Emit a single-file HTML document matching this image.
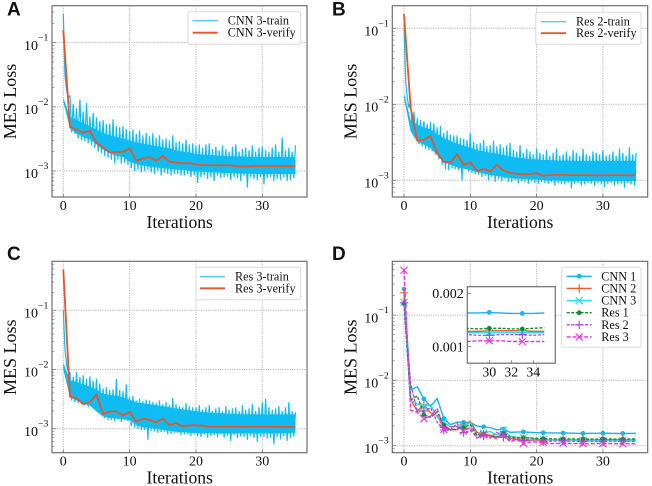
<!DOCTYPE html>
<html lang="en">
<head>
<meta charset="utf-8">
<title>MES Loss charts</title>
<style>
html,body{margin:0;padding:0;background:#fff;width:652px;height:486px;overflow:hidden}
svg{display:block;filter:blur(0.35px)}
text{font-family:"Liberation Serif",serif;fill:#111}
.panel-letter{font-family:"Liberation Sans",sans-serif;font-weight:bold;font-size:19px;fill:#111}
</style>
</head>
<body>
<svg id="chart" xmlns="http://www.w3.org/2000/svg" width="652" height="486" viewBox="0 0 652 486"></svg>
<script>
// All loss values are in units of 1e-3.
const xTicks = [0, 10, 20, 30];
const yExponents = [-1, -2, -3];
const insetXTicks = [30, 32, 34];
const insetYTicks = [0.002, 0.001];
const insetYLabels = ['0.002', '0.001'];
const markerIterations = [0, 3, 6, 9, 12, 15, 18, 21, 24, 27, 30, 33];

const verifyA = [157, 4.9, 4.4, 3.96, 4.25, 2.76, 2.3, 1.95, 1.98, 2.0, 2.25, 1.45, 1.56, 1.65, 1.45, 1.71, 1.4, 1.35, 1.32, 1.33, 1.27, 1.24, 1.23, 1.23, 1.22, 1.23, 1.2, 1.17, 1.18, 1.19, 1.19, 1.19, 1.19, 1.19, 1.19, 1.19];
const verifyB = [154, 8.9, 3.36, 3.4, 3.83, 2.3, 1.74, 1.72, 2.2, 1.59, 1.72, 1.33, 1.41, 1.31, 1.6, 1.35, 1.25, 1.22, 1.2, 1.21, 1.24, 1.15, 1.17, 1.18, 1.18, 1.17, 1.17, 1.17, 1.17, 1.16, 1.16, 1.17, 1.17, 1.17, 1.16, 1.17];
const verifyC = [487, 3.5, 3.26, 2.6, 2.82, 3.75, 1.77, 1.94, 1.96, 1.68, 1.91, 1.31, 1.48, 1.4, 1.28, 1.49, 1.15, 1.25, 1.09, 1.14, 1.14, 1.12, 1.08, 1.08, 1.09, 1.08, 1.08, 1.07, 1.07, 1.08, 1.08, 1.08, 1.07, 1.07, 1.07, 1.06];

// Dense body of each train curve: upper and lower edge at every iteration.
const coreUpperA = [14, 7, 6.2, 5.6, 5, 4.4, 3.9, 3.6, 3.4, 3.2, 3, 2.8, 2.7, 2.55, 2.45, 2.35, 2.25, 2.1, 2, 1.95, 1.85, 1.8, 1.78, 1.75, 1.72, 1.7, 1.7, 1.68, 1.66, 1.66, 1.65, 1.65, 1.65, 1.65, 1.65, 1.65];
const coreLowerA = [12, 4.6, 3.8, 3.4, 3.1, 2.6, 2.15, 1.9, 1.72, 1.65, 1.4, 1.28, 1.22, 1.17, 1.14, 1.1, 1.08, 1.05, 1.04, 1.02, 0.98, 0.97, 0.95, 0.95, 0.93, 0.93, 0.92, 0.91, 0.91, 0.9, 0.9, 0.9, 0.9, 0.9, 0.9, 0.9];
const coreUpperB = [14, 6.2, 5.4, 5, 4.7, 4.1, 3.6, 3.3, 3.05, 2.85, 2.7, 2.5, 2.4, 2.3, 2.25, 2.15, 2.05, 2, 1.95, 1.9, 1.9, 1.85, 1.85, 1.82, 1.82, 1.82, 1.8, 1.8, 1.8, 1.8, 1.8, 1.8, 1.8, 1.8, 1.8, 1.8];
const coreLowerB = [12, 4.4, 3.2, 2.95, 2.65, 2.15, 1.75, 1.6, 1.48, 1.42, 1.36, 1.28, 1.23, 1.17, 1.14, 1.1, 1.07, 1.05, 1.04, 1.03, 1.02, 1, 0.99, 0.99, 0.98, 0.98, 0.97, 0.97, 0.97, 0.97, 0.97, 0.97, 0.97, 0.97, 0.97, 0.97];
const coreUpperC = [13, 6.6, 6.2, 5.6, 5.1, 4.6, 3.9, 3.7, 3.6, 3.4, 3.1, 2.8, 2.7, 2.6, 2.5, 2.4, 2.3, 2.2, 2.12, 2.05, 1.98, 1.92, 1.88, 1.85, 1.82, 1.8, 1.78, 1.76, 1.75, 1.75, 1.75, 1.75, 1.75, 1.75, 1.75, 1.75];
const coreLowerC = [10, 3.4, 3, 2.65, 2.45, 1.95, 1.6, 1.52, 1.48, 1.46, 1.38, 1.16, 1.06, 1.03, 1, 0.95, 0.92, 0.89, 0.87, 0.85, 0.84, 0.84, 0.84, 0.83, 0.83, 0.83, 0.83, 0.83, 0.83, 0.83, 0.83, 0.83, 0.83, 0.84, 0.84, 0.86];

// Spiky train readings, spread evenly across iterations 0 to 35.
const trainA = [280,30,18,14, 15,4.0,11,3.8, 9.5,3.2,13,3.0, 8.5,2.9,11.5,2.7, 7,2.5,8,2.3, 6.8,2.0,6,1.9, 6.2,1.7,5.4,1.6, 5.5,1.5,6.4,1.3, 5,1.5,4.8,1.3, 5,1.35,4.5,1.25, 4.2,1.1,4.4,1.0, 3.8,1.05,4.3,.95, 3.6,1.0,3.9,1.05, 3.5,.95,3.9,.9, 3.3,1.0,3.6,.85, 3.1,.95,3.2,.9, 3.0,.85,3.6,.9, 2.8,.9,2.9,.85, 2.7,.85,3.1,.9, 2.6,.8,2.7,.85, 2.5,.65,2.6,.8, 2.3,.85,2.6,.75, 2.7,.8,2.2,.7, 2.4,.85,2.1,.78, 2.5,.8,2.2,.82, 2.0,.72,2.4,.8, 2.6,.78,2.0,.7, 2.2,.85,2.3,.55, 2.1,.8,2.5,.75, 2.0,.72,2.3,.8, 2.4,.62,2.1,.78, 2.0,.8,2.3,.7, 2.6,.75,2.0,.72, 3.3,.8,2.1,.7, 2.3,.72,2.0,.78, 2.5];
const trainB = [120,20,12,9, 11,4.5,8,3.8, 6.5,3,6.2,2.8, 6,2.6,5.5,2.5, 5.9,2.4,5.6,2.2, 5,1.9,5.2,1.6, 4.2,1.4,4.5,1.35, 4,1.45,3.9,1.4, 3.9,1.35,3.6,1.0, 3.5,1.4,3.4,1.3, 4.2,1.25,3.2,1.2, 3,1.2,3.1,1.1, 3.4,1.15,2.8,1.0, 2.9,1.1,3.3,.95, 2.8,1.05,3,.98, 2.7,1.05,2.9,.95, 3.1,.95,2.5,1.0, 2.4,.92,2.9,.98, 2.3,.95,2.6,.9, 2.4,.97,2.2,.92, 2.6,.9,2.3,.95, 2.2,.92,2.5,.9, 2.1,.95,2.3,.85, 2.6,.92,2.1,.9, 2.2,.88,2.4,.93, 2.1,.78,2.5,.9, 2.3,.92,2.1,.85, 2.6,.88,2.2,.93, 2.1,.9,2.4,.85, 2.3,.92,2.2,.88, 2.5,.82,2.1,.9, 2.2,.93,2.4,.85, 2.1,.88,2.6,.9, 2.3,.8,2.1,.92, 2.7,.88,2.2,.85, 2.3];
const trainC = [100,22,12,9, 9,3,7.5,2.8, 9,2.7,7.5,2.6, 8,2.5,7,2.3, 7.6,2.4,6.4,2.2, 7,2.2,5.8,1.7, 4.8,1.5,5,1.4, 4.5,1.4,4.6,1.35, 6.9,1.45,4.5,1.3, 4.3,1.4,5.6,1.35, 3.4,1.1,3.6,1.05, 3,1.0,3.2,.95, 2.9,.95,3.1,.65, 3,.92,2.8,.9, 2.7,.85,3,.88, 2.6,.9,2.8,.8, 2.5,.82,3.3,.85, 2.6,.85,2.4,.78, 2.3,.8,2.7,.82, 2.4,.75,2.3,.8, 2.3,.75,2.5,.72, 2.1,.8,2.3,.7, 2.5,.75,2.0,.78, 2.2,.72,2.3,.8, 2.0,.7,2.4,.76, 2.1,.62,2.2,.78, 2.3,.7,2.0,.74, 2.5,.72,2.1,.65, 2.2,.76,2.6,.7, 2.0,.6,2.3,.74, 2.8,.72,3.2,.68, 2.3,.7,2.1,.54, 2.2,.72,2.4,.66, 2.0,.75,2.3,.62, 2.8,.7,2.0,.74, 1.9];

const cnn1 = [250, 7.2, 8.0, 5.2, 4.0, 5.3, 2.6, 2.1, 2.3, 2.27, 2.27, 2.0, 1.95, 1.9, 1.75, 1.8, 1.6, 1.62, 1.63, 1.6, 1.58, 1.58, 1.57, 1.57, 1.56, 1.56, 1.55, 1.54, 1.55, 1.55, 1.56, 1.55, 1.54, 1.54, 1.54, 1.55];
const cnn2 = [220, 5, 3.4, 4.2, 3.2, 2.9, 1.9, 1.75, 1.75, 2.1, 2.35, 1.6, 1.5, 1.45, 1.35, 1.5, 1.3, 1.25, 1.25, 1.22, 1.22, 1.22, 1.22, 1.22, 1.22, 1.22, 1.22, 1.22, 1.22, 1.22, 1.23, 1.23, 1.23, 1.23, 1.22, 1.22];
const cnn3 = [157, 4.9, 4.4, 3.96, 4.25, 2.76, 2.3, 1.95, 1.98, 2.0, 2.25, 1.45, 1.56, 1.65, 1.45, 1.71, 1.4, 1.35, 1.32, 1.33, 1.27, 1.24, 1.23, 1.23, 1.22, 1.23, 1.21, 1.2, 1.2, 1.2, 1.2, 1.2, 1.2, 1.2, 1.2, 1.2];
const res1 = [150, 5, 5.8, 3, 2.7, 3.3, 2.05, 1.75, 1.8, 1.9, 2.1, 1.45, 1.5, 1.4, 1.35, 1.55, 1.35, 1.32, 1.33, 1.3, 1.3, 1.28, 1.28, 1.27, 1.27, 1.27, 1.27, 1.27, 1.27, 1.26, 1.27, 1.27, 1.26, 1.26, 1.27, 1.28];
const res2 = [154, 8.9, 3.36, 3.4, 3.83, 2.3, 1.74, 1.72, 2.2, 1.59, 1.72, 1.33, 1.41, 1.31, 1.6, 1.35, 1.25, 1.22, 1.2, 1.21, 1.24, 1.15, 1.17, 1.18, 1.18, 1.17, 1.17, 1.17, 1.17, 1.16, 1.16, 1.17, 1.17, 1.17, 1.16, 1.17];
const res3 = [487, 3.5, 3.26, 2.6, 2.82, 3.75, 1.77, 1.94, 1.96, 1.68, 1.91, 1.31, 1.48, 1.4, 1.28, 1.49, 1.15, 1.25, 1.09, 1.14, 1.14, 1.12, 1.08, 1.08, 1.09, 1.08, 1.08, 1.07, 1.07, 1.08, 1.08, 1.08, 1.07, 1.07, 1.07, 1.07];

const NS = 'http://www.w3.org/2000/svg';
const root = document.getElementById('chart');
const TRAIN_COLOR = '#0fbcf3';
const VERIFY_COLOR = '#e8532a';
const FRAME_COLOR = '#707070';
const LAST_ITERATION = 35;

function make(parent, tag, attrs, name) {
  const el = document.createElementNS(NS, tag);
  for (const k in attrs) el.setAttribute(k, attrs[k]);
  
  
  parent.appendChild(el);
  return el;
}
function label(parent, x, y, str, size, anchor, name) {
  const t = make(parent, 'text', {x: x, y: y, 'font-size': size, 'text-anchor': anchor}, name);
  t.textContent = str;
  return t;
}
function polyPoints(values, stepPerValue, sx, sy) {
  return values.map((v, i) => sx(i * stepPerValue).toFixed(2) + ',' + sy(v).toFixed(2)).join(' ');
}
function bandPoints(upper, lower, sx, sy) {
  const top = upper.map((v, i) => sx(i).toFixed(2) + ',' + sy(v).toFixed(2));
  const bottom = lower.map((v, i) => sx(i).toFixed(2) + ',' + sy(v).toFixed(2)).reverse();
  return top.concat(bottom).join(' ');
}
function drawMarker(g, kind, cx, cy, color, size) {
  if (kind === 'circle') {
    make(g, 'circle', {cx: cx, cy: cy, r: size, fill: color}, 'point-marker');
  } else if (kind === 'plus') {
    make(g, 'path', {d: `M${cx - size} ${cy}H${cx + size}M${cx} ${cy - size}V${cy + size}`, stroke: color, 'stroke-width': 1.1, fill: 'none'}, 'point-marker');
  } else {
    make(g, 'path', {d: `M${cx - size} ${cy - size}L${cx + size} ${cy + size}M${cx - size} ${cy + size}L${cx + size} ${cy - size}`, stroke: color, 'stroke-width': 1.1, fill: 'none'}, 'point-marker');
  }
}

function makeAxes(c) {
  const g = make(root, 'g', {}, c.name);
  const sx = v => c.x0 + v * c.pxPerIter;
  const sy = v => c.y3 - (Math.log10(v)) * c.pxPerDecade; // v in 1e-3 units
  const clipId = c.name + '-clip';
  const defs = make(g, 'defs', {}, 'plot-clip-defs');
  const clip = make(defs, 'clipPath', {id: clipId}, 'plot-clip');
  make(clip, 'rect', {x: c.left, y: c.top, width: c.right - c.left, height: c.bottom - c.top}, 'plot-clip-rect');

  const grid = make(g, 'g', {stroke: '#b5b5b5', 'stroke-width': 1, 'stroke-dasharray': '1.2 1.2'}, 'grid');
  xTicks.forEach(t => make(grid, 'line', {x1: sx(t), x2: sx(t), y1: c.top, y2: c.bottom}, 'x-grid-line'));
  yExponents.forEach(e => {
    const v = Math.pow(10, e + 3);
    make(grid, 'line', {x1: c.left, x2: c.right, y1: sy(v), y2: sy(v)}, 'y-grid-line');
  });

  const plot = make(g, 'g', {'clip-path': `url(#${clipId})`}, 'plot-area');
  c.draw(plot, sx, sy);

  make(g, 'rect', {x: c.left, y: c.top, width: c.right - c.left, height: c.bottom - c.top, fill: 'none', stroke: FRAME_COLOR, 'stroke-width': 1.2}, 'plot-frame');

  xTicks.forEach(t => {
    make(g, 'line', {x1: sx(t), x2: sx(t), y1: c.bottom, y2: c.bottom - 3, stroke: FRAME_COLOR, 'stroke-width': 0.8}, 'x-tick');
    label(g, sx(t), c.bottom + 13, String(t), 14, 'middle', 'x-tick-label');
  });
  for (let d = -1; d <= 3; d++) {
    for (let m = 1; m < 10; m++) {
      const v = m * Math.pow(10, d);
      const yy = sy(v);
      if (yy < c.top + 0.5 || yy > c.bottom - 0.5) continue;
      make(g, 'line', {x1: c.left, x2: c.left + (m === 1 ? 4 : 2.2), y1: yy, y2: yy, stroke: FRAME_COLOR, 'stroke-width': 0.7}, 'y-tick');
    }
  }
  yExponents.forEach(e => {
    const yy = sy(Math.pow(10, e + 3));
    const t = make(g, 'text', {x: c.left - 28, y: yy + 7.2, 'font-size': 14}, 'y-tick-label');
    const base = make(t, 'tspan', {}, 'y-tick-base');
    base.textContent = '10';
    const sup = make(t, 'tspan', {dy: -9.2, 'font-size': 9.8}, 'y-tick-exponent');
    sup.textContent = '\u2212' + Math.abs(e);
  });

  label(g, (c.left + c.right) / 2 + 0.2, c.bottom + 31, 'Iterations', 17.6, 'middle', 'x-axis-title');
  const yl = label(g, 0, 0, 'MES Loss', 18, 'middle', 'y-axis-title');
  yl.setAttribute('transform', `translate(${c.left - 36},${(c.top + c.bottom) / 2 + 0.2}) rotate(-90)`);
  const letter = make(root, 'text', {x: c.letterX, y: c.letterY, class: 'panel-letter'}, 'panel-letter');
  letter.textContent = c.letter;
  return g;
}

function legend(parent, box, entries) {
  const g = make(parent, 'g', {}, 'legend');
  make(g, 'rect', {x: box.x, y: box.y, width: box.w, height: box.h, rx: 2, fill: 'rgba(255,255,255,0.85)', stroke: '#dcdcdc', 'stroke-width': 1}, 'legend-box');
  entries.forEach((e, i) => {
    const row = make(g, 'g', {}, 'legend-entry');
    const yy = box.firstY + i * box.rowH;
    make(row, 'line', {x1: box.hx, x2: box.hx + 25, y1: yy, y2: yy, stroke: e.color, 'stroke-width': e.w, 'stroke-dasharray': e.dash || 'none'}, 'legend-line');
    if (e.marker) drawMarker(row, e.marker, box.hx + 12.5, yy, e.color, e.size);
    label(row, box.tx, yy + 4, e.text, 12.2, 'start', 'legend-label');
  });
}

function simplePanel(cfg, train, upper, lower, verify) {
  cfg.draw = (plot, sx, sy) => {
    make(plot, 'polygon', {points: bandPoints(upper, lower, sx, sy), fill: TRAIN_COLOR, stroke: 'none'}, 'train-band');
    make(plot, 'polyline', {points: polyPoints(train, LAST_ITERATION / (train.length - 1), sx, sy), fill: 'none', stroke: TRAIN_COLOR, 'stroke-width': 1.2, 'stroke-linejoin': 'bevel'}, 'train-line');
    make(plot, 'polyline', {points: polyPoints(verify, 1, sx, sy), fill: 'none', stroke: VERIFY_COLOR, 'stroke-width': 1.8}, 'verify-line');
  };
  const g = makeAxes(cfg);
  legend(g, cfg.legendBox, [
    {color: TRAIN_COLOR, w: 1, text: cfg.series + '-train'},
    {color: VERIFY_COLOR, w: 1.8, text: cfg.series + '-verify'}
  ]);
}

const leftCol = {x0: 63.3, pxPerIter: 6.633, left: 52, right: 307};
const rightCol = {x0: 404, pxPerIter: 6.63, left: 392.3, right: 647.7};

simplePanel(Object.assign({}, leftCol, {name: 'panel-a', letter: 'A', letterX: 7, letterY: 15.5, top: 5.7, bottom: 197, y3: 171, pxPerDecade: 64.17, series: 'CNN 3',
  legendBox: {x: 188, y: 11.7, w: 112.7, h: 32.6, hx: 192.7, tx: 227.7, firstY: 20.7, rowH: 12}}), trainA, coreUpperA, coreLowerA, verifyA);
simplePanel(Object.assign({}, rightCol, {name: 'panel-b', letter: 'B', letterX: 332, letterY: 15.5, top: 5.7, bottom: 197, y3: 180.3, pxPerDecade: 76, series: 'Res 2',
  legendBox: {x: 535.7, y: 12.3, w: 105.3, h: 32, hx: 541, tx: 576, firstY: 21.7, rowH: 11.4}}), trainB, coreUpperB, coreLowerB, verifyB);
simplePanel(Object.assign({}, leftCol, {name: 'panel-c', letter: 'C', letterX: 7, letterY: 260, top: 261.3, bottom: 452.7, y3: 428.7, pxPerDecade: 59.2, series: 'Res 3',
  legendBox: {x: 196, y: 267.3, w: 104.7, h: 32.4, hx: 200, tx: 235, firstY: 276.7, rowH: 11.6}}), trainC, coreUpperC, coreLowerC, verifyC);

const seriesD = [
  {values: cnn1, text: 'CNN 1', color: '#19b4ea', w: 1.4, marker: 'circle', size: 2.4, dash: ''},
  {values: cnn2, text: 'CNN 2', color: '#ee5a2c', w: 1.4, marker: 'plus', size: 4.2, dash: ''},
  {values: cnn3, text: 'CNN 3', color: '#28dced', w: 1.4, marker: 'cross', size: 3.5, dash: ''},
  {values: res1, text: 'Res 1', color: '#0f8a2c', w: 1.3, marker: 'circle', size: 2.3, dash: '3 1.6'},
  {values: res2, text: 'Res 2', color: '#a546e6', w: 1.3, marker: 'plus', size: 4.2, dash: '3 1.6'},
  {values: res3, text: 'Res 3', color: '#ee2fdc', w: 1.4, marker: 'cross', size: 3.5, dash: '4 1.8'}
];

function drawSeries(plot, sx, sy) {
  seriesD.forEach(s => {
    const g = make(plot, 'g', {}, 'series-' + s.text.toLowerCase().replace(' ', '-'));
    make(g, 'polyline', {points: polyPoints(s.values, 1, sx, sy), fill: 'none', stroke: s.color, 'stroke-width': s.w, 'stroke-dasharray': s.dash || 'none'}, 'series-line');
    markerIterations.forEach(it => drawMarker(g, s.marker, sx(it), sy(s.values[it]), s.color, s.size));
  });
}

const panelD = makeAxes(Object.assign({}, rightCol, {name: 'panel-d', letter: 'D', letterX: 332, letterY: 260, top: 261.3, bottom: 452.7, y3: 445.7, pxPerDecade: 65.3, draw: drawSeries}));
legend(panelD, {x: 561.7, y: 267.3, w: 79.3, h: 80, hx: 566.7, tx: 601.3, firstY: 276.3, rowH: 12.13}, seriesD);

// Inset zoom on the last iterations
(function () {
  const L = 467.3, R = 555.3, T = 286.7, B = 363.2;
  const ix = v => 489.3 + (v - 30) * 11;
  const iy = v => 346.7 - Math.log10(v) * 177.4; // v in 1e-3 units
  const g = make(panelD, 'g', {}, 'inset-chart');
  const defs = make(g, 'defs', {}, 'inset-clip-defs');
  const clip = make(defs, 'clipPath', {id: 'inset-clip'}, 'inset-clip');
  make(clip, 'rect', {x: L, y: T, width: R - L, height: B - T}, 'inset-clip-rect');
  make(g, 'rect', {x: L, y: T, width: R - L, height: B - T, fill: '#fff'}, 'inset-background');
  const plot = make(g, 'g', {'clip-path': 'url(#inset-clip)'}, 'inset-plot-area');
  seriesD.forEach(s => {
    const sg = make(plot, 'g', {}, 'inset-series');
    make(sg, 'polyline', {points: polyPoints(s.values, 1, ix, iy), fill: 'none', stroke: s.color, 'stroke-width': s.w, 'stroke-dasharray': s.dash || 'none'}, 'inset-line');
    markerIterations.forEach(it => drawMarker(sg, s.marker, ix(it), iy(s.values[it]), s.color, s.size));
  });
  make(g, 'rect', {x: L, y: T, width: R - L, height: B - T, fill: 'none', stroke: FRAME_COLOR, 'stroke-width': 1.2}, 'inset-frame');
  insetXTicks.forEach(t => {
    make(g, 'line', {x1: ix(t), x2: ix(t), y1: B, y2: B - 3, stroke: FRAME_COLOR, 'stroke-width': 0.8}, 'inset-x-tick');
    label(g, ix(t), B + 13.5, String(t), 14, 'middle', 'inset-x-tick-label');
  });
  insetYTicks.forEach((t, i) => {
    const yy = iy(t * 1000);
    make(g, 'line', {x1: L, x2: L + 4, y1: yy, y2: yy, stroke: FRAME_COLOR, 'stroke-width': 0.8}, 'inset-y-tick');
    label(g, L - 3.5, yy + 4.8, insetYLabels[i], 14, 'end', 'inset-y-tick-label');
  });
})();
</script>
</body>
</html>
